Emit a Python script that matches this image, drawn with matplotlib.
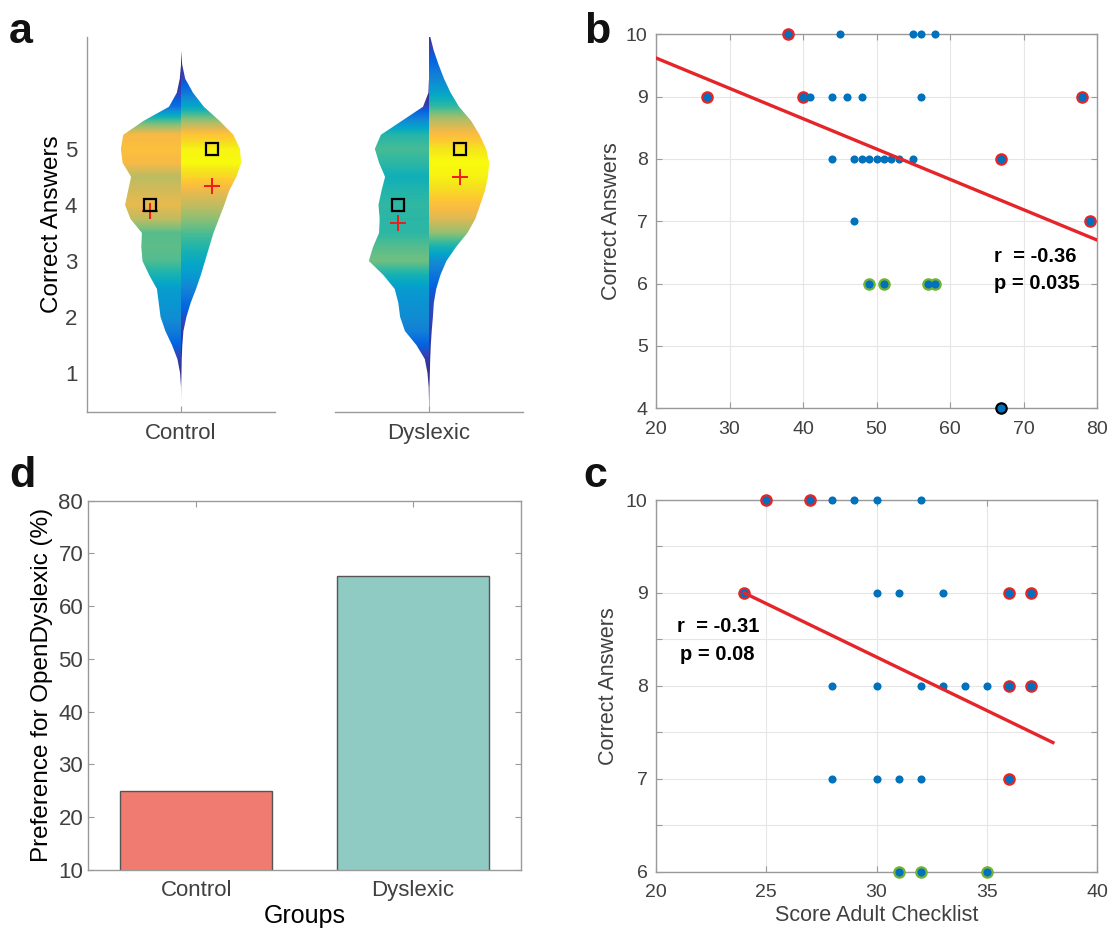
import numpy as np
import matplotlib.pyplot as plt
from matplotlib.colors import LinearSegmentedColormap
from matplotlib.patches import Polygon

plt.rcParams['font.family'] = ['Liberation Sans', 'DejaVu Sans']

TXT = '#404040'
SPINE = '#9a9a9a'
GRID = '#e6e6e6'

# ---------------- data ----------------
# panel a: relative density of the two halves of each violin, every 0.25 answers
a_levels = [0.25, 0.5, 0.75, 1.0, 1.25, 1.5, 1.75, 2.0, 2.25, 2.5, 2.75, 3.0, 3.25, 3.5,
            3.75, 4.0, 4.25, 4.5, 4.75, 5.0, 5.25, 5.5, 5.75, 6.0, 6.25, 6.5, 6.75, 7.0]
control_left = [0, 0, 0, 0.015, 0.06, 0.15, 0.26, 0.34, 0.37, 0.40, 0.53, 0.64, 0.66, 0.65,
                0.84, 0.93, 0.88, 0.83, 0.97, 1.0, 0.96, 0.62, 0.20, 0.07, 0.02, 0, 0, 0]
control_right = [0, 0, 0.003, 0.008, 0.012, 0.022, 0.04, 0.09, 0.16, 0.25, 0.33, 0.40, 0.47, 0.54,
                 0.63, 0.72, 0.80, 0.92, 1.0, 0.98, 0.87, 0.64, 0.38, 0.20, 0.07, 0.02, 0, 0]
dyslexic_left = [0, 0, 0.005, 0.025, 0.07, 0.21, 0.40, 0.48, 0.51, 0.57, 0.76, 1.0, 0.93, 0.83,
                 0.82, 0.84, 0.79, 0.73, 0.83, 0.90, 0.80, 0.45, 0.10, 0.01, 0, 0, 0, 0]
dyslexic_right = [0.004, 0.006, 0.008, 0.014, 0.02, 0.03, 0.045, 0.065, 0.08, 0.12, 0.19, 0.29, 0.45, 0.64,
                  0.77, 0.85, 0.93, 0.98, 1.0, 0.95, 0.84, 0.70, 0.50, 0.36, 0.25, 0.16, 0.08, 0.02]
# peak density of each half relative to the densest one (sets the colour scale)
peak_level = {'control_left': 0.85, 'control_right': 1.0,
              'dyslexic_left': 0.59, 'dyslexic_right': 1.0}
a_groups = ['Control', 'Dyslexic']
a_means = [[3.89, 4.34], [3.68, 4.49]]
a_medians = [[4, 5], [4, 5]]

# panel b
b_score = [38, 45, 55, 56, 58,
           27, 40, 41, 44, 46, 48, 56, 78,
           44, 47, 48, 49, 50, 51, 52, 53, 55, 67,
           47, 79,
           49, 51, 57, 58,
           67]
b_correct = [10, 10, 10, 10, 10,
             9, 9, 9, 9, 9, 9, 9, 9,
             8, 8, 8, 8, 8, 8, 8, 8, 8, 8,
             7, 7,
             6, 6, 6, 6,
             4]
b_ring = ['red', '', '', '', '',
          'red', 'red', '', '', '', '', '', 'red',
          '', '', '', '', '', '', '', '', '', 'red',
          '', 'red',
          'green', 'green', 'green', 'green',
          'black']
b_fit_x = [20, 80]
b_fit_y = [9.62, 6.70]

# panel c
c_score = [25, 27, 28, 29, 30, 32,
           24, 30, 31, 33, 36, 37,
           28, 30, 32, 33, 34, 35, 36, 37,
           28, 30, 31, 32, 36,
           31, 32, 35]
c_correct = [10, 10, 10, 10, 10, 10,
             9, 9, 9, 9, 9, 9,
             8, 8, 8, 8, 8, 8, 8, 8,
             7, 7, 7, 7, 7,
             6, 6, 6]
c_ring = ['red', 'red', '', '', '', '',
          'red', '', '', '', 'red', 'red',
          '', '', '', '', '', '', 'red', 'red',
          '', '', '', '', 'red',
          'green', 'green', 'green']
c_fit_x = [24, 38]
c_fit_y = [9.0, 7.39]

# panel d
d_groups = ['Control', 'Dyslexic']
d_pref = [25.0, 65.7]
d_colors = ['#F07B71', '#8FCBC3']

# ---------------- colormap ----------------
parula_pts = [(0.2081, 0.1663, 0.5292), (0.1959, 0.2645, 0.7279), (0.0117, 0.3875, 0.8820),
              (0.0498, 0.4586, 0.8641), (0.0793, 0.5200, 0.8312), (0.0343, 0.5966, 0.8199),
              (0.0228, 0.6535, 0.7768), (0.0843, 0.6928, 0.7062), (0.2178, 0.7250, 0.6193),
              (0.3953, 0.7459, 0.5244), (0.5709, 0.7485, 0.4494), (0.7184, 0.7411, 0.3905),
              (0.8507, 0.7299, 0.3360), (0.9739, 0.7314, 0.2666), (0.9955, 0.7861, 0.1967),
              (0.9589, 0.8949, 0.1132), (0.9763, 0.9831, 0.0538)]
parula_pos = [0, 4, 8, 12, 16, 20, 24, 28, 32, 36, 40, 44, 48, 52, 56, 60, 63]
parula = LinearSegmentedColormap.from_list(
    'parula', [(p / 63, c) for p, c in zip(parula_pos, parula_pts)])

fig = plt.figure(figsize=(11.2, 9.31), dpi=100)


def box(l, t, r, b):
    return [l / 1120, 1 - b / 931, (r - l) / 1120, (b - t) / 931]


def style(ax, size):
    for s in ax.spines.values():
        s.set_color(SPINE)
        s.set_linewidth(1.0)
    ax.tick_params(colors=SPINE, labelcolor=TXT, labelsize=size, direction='in', length=4)


# ---------------- a ----------------
MAXW = 0.64
OFFS = 0.325


def half_violin(ax, dens, peak, side):
    dens = np.asarray(dens, float)
    y = np.asarray(a_levels, float)
    x = side * MAXW * dens
    shape = Polygon(np.column_stack([np.r_[0, x, 0], np.r_[y[0], y, y[-1]]]),
                    closed=True, fc='none', ec='none')
    ax.add_patch(shape)
    step = y[1] - y[0]
    img = ax.imshow((dens * peak)[:, None], cmap=parula, vmin=0, vmax=1,
                    origin='lower', aspect='auto', interpolation='bilinear',
                    extent=[min(0, side * MAXW), max(0, side * MAXW),
                            y[0] - step / 2, y[-1] + step / 2])
    img.set_clip_path(shape)


ax_a1 = fig.add_axes(box(87, 36.7, 275, 412.3))
ax_a2 = fig.add_axes(box(335, 36.7, 523, 412.3))
halves = [(control_left, control_right, 'control'), (dyslexic_left, dyslexic_right, 'dyslexic')]
for i, ax in enumerate([ax_a1, ax_a2]):
    left, right, key = halves[i]
    half_violin(ax, left, peak_level[key + '_left'], -1)
    half_violin(ax, right, peak_level[key + '_right'], 1)
    for j, side in enumerate([-1, 1]):
        ax.plot(side * OFFS, a_means[i][j], marker='+', ms=11, mew=1.4, color='#ee1c1c', zorder=5)
        ax.plot(side * OFFS, a_medians[i][j], marker='s', ms=8.5, mfc='none', mec='k', mew=1.6, zorder=6)
    ax.set_xlim(-1, 1)
    ax.set_ylim(0.3, 7.0)
    style(ax, 16)
    ax.spines['top'].set_visible(False)
    ax.spines['right'].set_visible(False)
    ax.set_xticks([0])
    ax.set_xticklabels([a_groups[i]])
    ax.tick_params(axis='x', pad=8)
    ax.tick_params(axis='y', length=0, pad=7)

ax_a1.set_yticks([1, 2, 3, 4, 5])
ax_a1.set_ylabel('Correct Answers', fontsize=17.5, color='black', labelpad=1)
ax_a2.spines['left'].set_visible(False)
ax_a2.set_yticks([])

# ---------------- b and c ----------------
ring_col = {'red': '#E5252A', 'green': '#74B32F', 'black': '#000000'}


def scatter_panel(ax, xs, ys, rings, fit_x, fit_y):
    xs = np.asarray(xs)
    ys = np.asarray(ys)
    rings = np.asarray(rings)
    for name, col in ring_col.items():
        m = rings == name
        ax.scatter(xs[m], ys[m], s=82, color=col, lw=0, zorder=3, clip_on=False)
    ax.scatter(xs, ys, s=34, color='#0072BD', lw=0, zorder=4, clip_on=False)
    ax.plot(fit_x, fit_y, color='#E5252A', lw=2.4, zorder=5)
    ax.grid(True, color=GRID, lw=0.8)
    ax.set_axisbelow(True)
    style(ax, 14)
    ax.tick_params(top=True, right=True)
    ax.tick_params(axis='x', pad=9)
    ax.tick_params(axis='y', pad=6)


ax_b = fig.add_axes(box(656, 34.3, 1097, 408.3))
scatter_panel(ax_b, b_score, b_correct, b_ring, b_fit_x, b_fit_y)
ax_b.set_xlim(20, 80)
ax_b.set_ylim(4, 10)
ax_b.set_xticks(range(20, 81, 10))
ax_b.set_yticks(range(4, 11))
ax_b.set_ylabel('Correct Answers', fontsize=15.5, color=TXT, labelpad=3)
ax_b.text(66, 6.43, 'r  = -0.36', fontsize=14.5, fontweight='bold', ha='left', va='center')
ax_b.text(66, 6.0, 'p = 0.035', fontsize=14.5, fontweight='bold', ha='left', va='center')

ax_c = fig.add_axes(box(656, 500, 1097, 871.7))
scatter_panel(ax_c, c_score, c_correct, c_ring, c_fit_x, c_fit_y)
ax_c.set_xlim(20, 40)
ax_c.set_ylim(6, 10)
ax_c.set_xticks(range(20, 41, 5))
ax_c.set_yticks(np.arange(6, 10.01, 0.5))
ax_c.set_yticklabels(['6', '', '7', '', '8', '', '9', '', '10'])
ax_c.set_xlabel('Score Adult Checklist', fontsize=15.5, color=TXT, labelpad=3)
ax_c.set_ylabel('Correct Answers', fontsize=15.5, color=TXT, labelpad=5)
ax_c.text(22.8, 8.64, 'r  = -0.31', fontsize=14.5, fontweight='bold', ha='center', va='center')
ax_c.text(22.8, 8.34, 'p = 0.08', fontsize=14.5, fontweight='bold', ha='center', va='center')

# ---------------- d ----------------
ax_d = fig.add_axes(box(88, 500.7, 521, 870))
ax_d.bar([1, 2], d_pref, width=0.7, color=d_colors, edgecolor='#555555', lw=1.0, zorder=2)
ax_d.set_xlim(0.5, 2.5)
ax_d.set_ylim(10, 80)
ax_d.set_xticks([1, 2])
ax_d.set_xticklabels(d_groups)
ax_d.set_yticks(range(10, 81, 10))
style(ax_d, 16)
ax_d.tick_params(top=True, right=True)
ax_d.tick_params(axis='x', pad=7)
ax_d.set_ylabel('Preference for OpenDyslexic (%)', fontsize=17.5, color='black', labelpad=4)
ax_d.set_xlabel('Groups', fontsize=18, color='black', labelpad=2)

# panel letters
for lab, x, y in [('a', 21, 43), ('b', 597, 43), ('c', 595, 487), ('d', 22, 487)]:
    fig.text(x / 1120, 1 - y / 931, lab, fontsize=31, fontweight='bold',
             ha='center', va='baseline', color='#111111')

fig.savefig('out.png', dpi=100)
